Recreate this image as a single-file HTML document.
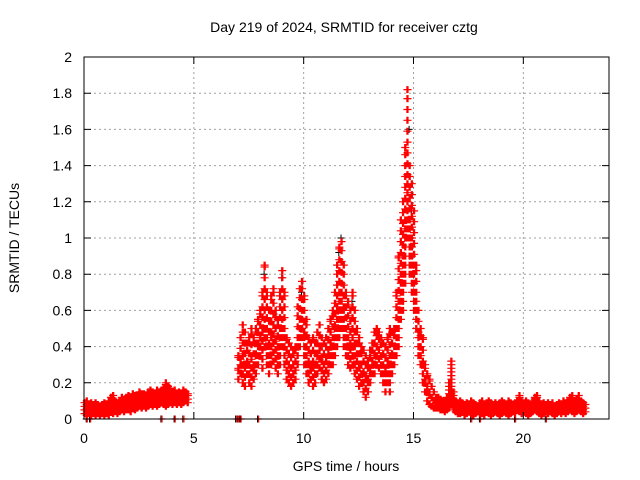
<!DOCTYPE html>
<html><head><meta charset="utf-8"><style>
body{margin:0;background:#fff}
svg{display:block;font-family:"Liberation Sans",sans-serif}
</style></head><body>
<svg id="c" width="640" height="480">
<text x="344" y="32" text-anchor="middle" font-size="14">Day 219 of 2024, SRMTID for receiver cztg</text>
<text x="346" y="471" text-anchor="middle" font-size="14">GPS time / hours</text>
<text transform="translate(19,238) rotate(-90)" text-anchor="middle" font-size="14">SRMTID / TECUs</text>
<g id="grid"></g><g id="pts"></g><g id="ax"></g>
</svg>
<script>
const xTicks=[0,5,10,15,20];
const yTicks=[0,0.2,0.4,0.6,0.8,1,1.2,1.4,1.6,1.8,2];
const yTickLabels=["0","0.2","0.4","0.6","0.8","1","1.2","1.4","1.6","1.8","2"];
const activeStart=7.0;
const activeUpper=[.35,.45,.52,.48,.42,.45,.5,.45,.5,.55,.6,.7,.85,.7,.6,.68,.72,.6,.55,.7,.82,.7,.45,.42,.4,.38,.4,.62,.72,.76,.68,.55,.45,.42,.45,.42,.48,.52,.45,.42,.45,.5,.55,.6,.7,.85,.95,.98,.85,.7,.65,.6,.7,.6,.5,.45,.4,.38,.35,.32,.38,.42,.48,.5,.48,.45,.42,.4,.45,.5,.48,.5,.7,.9,1.1,1.2,1.5,1.82,1.4,1.3,1.15,.85,.6,.5,.45,.3,.25,.22,.18,.15,.12];
const activeMid=[.28,.33,.36,.3,.32,.3,.35,.3,.36,.42,.46,.5,.6,.5,.42,.48,.52,.44,.4,.5,.6,.5,.32,.3,.28,.3,.32,.45,.55,.6,.48,.4,.32,.3,.32,.3,.36,.4,.34,.3,.34,.38,.42,.45,.52,.62,.7,.75,.62,.5,.45,.42,.5,.42,.36,.3,.3,.26,.24,.22,.28,.32,.36,.4,.38,.35,.3,.28,.32,.35,.36,.4,.5,.65,.8,.9,1.1,1.35,1.1,1.0,.85,.7,.48,.4,.32,.22,.18,.15,.12,.1,.09];
const activeLower=[.22,.25,.2,.18,.25,.2,.18,.22,.25,.3,.35,.28,.4,.3,.25,.3,.32,.28,.25,.3,.4,.3,.22,.2,.18,.2,.22,.3,.4,.45,.3,.25,.2,.22,.18,.2,.25,.28,.22,.2,.22,.25,.3,.3,.35,.4,.45,.5,.4,.35,.3,.28,.3,.25,.22,.18,.2,.15,.12,.15,.2,.25,.25,.3,.28,.25,.2,.15,.2,.15,.25,.3,.35,.4,.55,.6,.75,1.0,.8,.7,.6,.5,.35,.3,.2,.15,.1,.08,.07,.06,.06];
const quiet1Start=0.0;
const quiet1Hi=[.09,.1,.08,.09,.08,.09,.08,.07,.08,.09,.08,.1,.12,.13,.1,.09,.1,.12,.11,.12,.13,.12,.14,.13,.13,.15,.14,.14,.13,.15,.16,.15,.14,.16,.15,.16,.17,.2,.18,.17,.15,.16,.14,.15,.14,.16,.15,.14];
const quiet1Lo=[.03,.02,.03,.02,.03,.02,.03,.02,.03,.02,.03,.02,.04,.03,.04,.03,.04,.05,.04,.05,.05,.04,.06,.05,.06,.07,.06,.07,.06,.07,.08,.07,.08,.07,.08,.09,.08,.07,.08,.09,.08,.09,.08,.09,.08,.09,.1,.09];
const quiet2Start=16.1;
const quiet2Hi=[.12,.11,.1,.1,.12,.2,.32,.15,.1,.09,.1,.09,.08,.09,.08,.1,.09,.08,.07,.09,.1,.08,.09,.1,.09,.08,.09,.08,.09,.1,.09,.08,.1,.09,.08,.09,.1,.13,.1,.09,.1,.09,.08,.1,.12,.13,.1,.08,.09,.08,.09,.08,.09,.07,.08,.09,.08,.1,.09,.1,.12,.13,.1,.11,.13,.1,.09,.08];
const quiet2Lo=[.06,.05,.05,.04,.05,.06,.08,.05,.04,.03,.03,.04,.02,.03,.04,.03,.02,.03,.04,.03,.03,.02,.04,.03,.02,.03,.04,.03,.02,.03,.04,.03,.02,.03,.04,.03,.05,.04,.03,.04,.03,.02,.03,.04,.05,.04,.03,.02,.03,.04,.03,.04,.03,.02,.03,.04,.03,.04,.03,.04,.05,.04,.03,.04,.05,.04,.03,.04];
const zeroTimes=[0.1,0.25,3.5,4.1,4.5,6.9,7.0,7.1,7.9,17.6,18.0,19.6,21.0];
const blackTimes=[8.2,9.0,11.7,11.6,14.75,14.8,14.9,15.0,12.2,9.9];
const blackValues=[.8,.78,1.0,.92,1.77,1.6,1.15,.8,.65,.7];
const step=0.1;

const L=84,R=609,T=57,B=419,XMAX=23.9,YMAX=2;
const X=t=>L+t/XMAX*(R-L), Y=v=>B-v/YMAX*(B-T);
const NS="http://www.w3.org/2000/svg";
function mk(tag,parent,attrs){const e=document.createElementNS(NS,tag);for(const k in attrs)e.setAttribute(k,attrs[k]);parent.appendChild(e);return e;}
const grid=document.getElementById('grid'),ax=document.getElementById('ax'),pts=document.getElementById('pts');
yTicks.forEach((v,i)=>{
  if(v>0&&v<YMAX){const g=mk('line',grid,{x1:L,x2:R,y1:Y(v),y2:Y(v),stroke:'#a0a0a0','stroke-dasharray':'2,3'});
  }
  const tk=mk('path',ax,{d:`M${L},${Y(v)}h7M${R},${Y(v)}h-7`,stroke:'#000'});
  
  const t=mk('text',ax,{x:L-12,y:Y(v)+5,'text-anchor':'end','font-size':14});t.textContent=yTickLabels[i];
  
});
xTicks.forEach(v=>{
  if(v>0){const g=mk('line',grid,{x1:X(v),x2:X(v),y1:T,y2:B,stroke:'#a0a0a0','stroke-dasharray':'2,3'});
  }
  const tk=mk('path',ax,{d:`M${X(v)},${B}v-7M${X(v)},${T}v7`,stroke:'#000'});
  
  const t=mk('text',ax,{x:X(v),y:B+24,'text-anchor':'middle','font-size':14});t.textContent=String(v);
  
});
const fr=mk('rect',ax,{x:L,y:T,width:R-L,height:B-T,fill:'none',stroke:'#000'});

let d='';
function plus(t,v){const x=X(t),y=Y(v);return `M${(x-3.5).toFixed(1)},${y.toFixed(1)}h7M${x.toFixed(1)},${(y-3.5).toFixed(1)}v7`;}
let dk='';
blackTimes.forEach((t,i)=>{dk+=plus(t,blackValues[i]);});
zeroTimes.forEach(t=>{dk+=plus(t,0);});
const bk=mk('path',pts,{d:dk,stroke:'#000','stroke-width':1,fill:'none'});

// fill the scatter band between the low and high readings at each time
function band(start,lo,hi,gap){
  lo.forEach((l,i)=>{const h=hi[i];
    [0,0.5].forEach(o=>{const t=start+(i+o)*step;
      d+=plus(t,h);d+=plus(t,l);
      for(let v=l+gap;v<h;v+=gap)d+=plus(t,v);
    });
  });
}
band(quiet1Start,quiet1Lo,quiet1Hi,0.02);
band(quiet2Start,quiet2Lo,quiet2Hi,0.02);
band(activeStart,activeLower,activeMid,0.05);
band(activeStart,activeMid,activeUpper,0.06);
zeroTimes.forEach(t=>{d+=plus(t+0.05,0);});
const rd=mk('path',pts,{d:d,stroke:'#ff0000','stroke-width':1.2,fill:'none'});

</script>
</body></html>
